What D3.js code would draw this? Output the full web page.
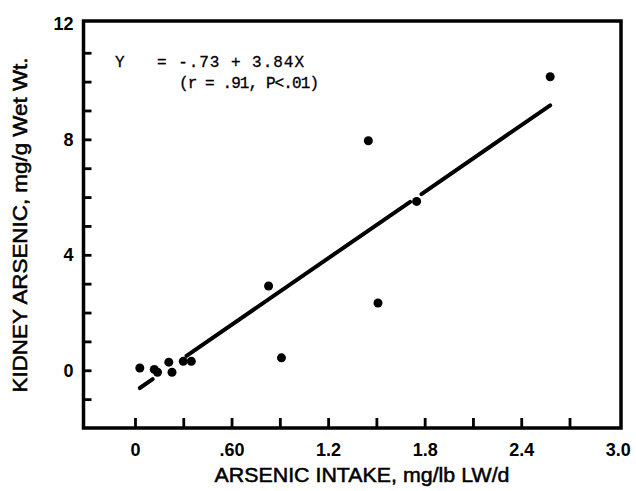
<!DOCTYPE html>
<html>
<head>
<meta charset="utf-8">
<script src="https://cdn.jsdelivr.net/npm/d3@7"></script>
<style>
  body { margin: 0; background: #fff; }
  svg { display: block; }
  .tick-label { font-family: "Liberation Sans", Arial, sans-serif; font-weight: bold; font-size: 18px; }
  .title { font-family: "Liberation Sans", Arial, sans-serif; font-size: 20px; stroke: #000; stroke-width: 0.5px; }
  .note { font-family: "Liberation Mono", "DejaVu Sans Mono", monospace; font-size: 16px; stroke: #000; stroke-width: 0.3px; }
</style>
</head>
<body>
<svg id="chart" width="636" height="491"></svg>
<script>
// data
const intake = [0.03, 0.12, 0.14, 0.21, 0.23, 0.30, 0.35, 0.83, 0.91, 1.45, 1.51, 1.75, 2.58];
const kidney = [0.08, 0.03, -0.07, 0.28, -0.07, 0.31, 0.31, 2.92, 0.43, 7.95, 2.33, 5.85, 10.17];

// fitted line Y = -.73 + 3.84X, drawn in pieces (gaps where it runs under points)
const fitA = -0.73, fitB = 3.84;
const fitPieces = [[0.03, 0.11], [0.32, 1.71], [1.78, 2.58]];

const xTicks = [0, 0.3, 0.6, 0.9, 1.2, 1.5, 1.8, 2.1, 2.4, 2.7];
const xLabels = [0, 0.6, 1.2, 1.8, 2.4, 3.0];
const xLabelText = ['0', '.60', '1.2', '1.8', '2.4', '3.0'];
const yTicks = [-1, 0, 1, 2, 3, 4, 5, 6, 7, 8, 9, 10, 11];
const yLabels = [0, 4, 8, 12];

const svg = d3.select('#chart');

const xMin = -0.32, xMax = 3.02, yMin = -2, yMax = 12.1;
const x = d3.scaleLinear().domain([xMin, xMax]).range([83.5, 621]);
const y = d3.scaleLinear().domain([yMin, yMax]).range([428, 21]);

//frame
svg.append('rect')
    .attr('x', x(xMin))
    .attr('y', y(yMax))
    .attr('width', x(xMax) - x(xMin))
    .attr('height', y(yMin) - y(yMax))
    .attr('fill', 'none')
    .attr('stroke', '#000')
    .attr('stroke-width', 3.5);

//inward ticks
const xTickAxis = d3.axisBottom(x).tickValues(xTicks).tickSize(-10).tickFormat('');
svg.append('g')
    .attr('transform', `translate(0,${y(yMin)})`)
    .call(xTickAxis)
    .call(g => g.select('.domain').remove())
    .selectAll('line').attr('stroke-width', 2.8);

const yTickAxis = d3.axisLeft(y).tickValues(yTicks).tickSize(-8).tickFormat('');
svg.append('g')
    .attr('transform', `translate(${x(xMin)},0)`)
    .call(yTickAxis)
    .call(g => g.select('.domain').remove())
    .selectAll('line').attr('stroke-width', 2.8);

//labels
const xLabelAxis = d3.axisBottom(x).tickValues(xLabels).tickSize(0).tickPadding(15)
    .tickFormat((d, i) => xLabelText[i]);
svg.append('g')
    .attr('transform', `translate(0,${y(yMin)})`)
    .call(xLabelAxis)
    .call(g => g.select('.domain').remove())
    .selectAll('text')
    .attr('class', 'tick-label')
    .attr('fill', '#000');

const yLabelAxis = d3.axisLeft(y).tickValues(yLabels).tickSize(0).tickPadding(10)
    .tickFormat(d3.format('d'));
svg.append('g')
    .attr('transform', `translate(${x(xMin)},0)`)
    .call(yLabelAxis)
    .call(g => g.select('.domain').remove())
    .selectAll('text')
    .attr('class', 'tick-label')
    .attr('fill', '#000');

//axis titles
svg.append('text')
    .attr('class', 'title')
    .attr('x', 362)
    .attr('y', 482)
    .attr('text-anchor', 'middle')
    .attr('textLength', 295)
    .attr('lengthAdjust', 'spacingAndGlyphs')
    .text('ARSENIC INTAKE, mg/lb LW/d');

svg.append('text')
    .attr('class', 'title')
    .attr('transform', 'translate(27,225) rotate(-90)')
    .attr('text-anchor', 'middle')
    .attr('textLength', 335)
    .attr('lengthAdjust', 'spacingAndGlyphs')
    .text('KIDNEY ARSENIC, mg/g Wet Wt.');

//regression line
const line = d3.line().x(d => x(d)).y(d => y(fitA + fitB * d));
svg.append('g')
    .selectAll('path')
    .data(fitPieces)
    .join('path')
    .attr('d', d => line(d))
    .attr('fill', 'none')
    .attr('stroke', '#000')
    .attr('stroke-width', 4)
    .attr('stroke-linecap', 'round');

//points
svg.append('g')
    .selectAll('circle')
    .data(intake)
    .join('circle')
    .attr('cx', d => x(d))
    .attr('cy', (d, i) => y(kidney[i]))
    .attr('r', 4.5)
    .attr('fill', '#000');

//equation note
svg.append('text')
    .attr('class', 'note')
    .attr('x', 115)
    .attr('y', 67)
    .text('Y');
svg.append('text')
    .attr('class', 'note')
    .attr('x', 157)
    .attr('y', 67)
    .attr('textLength', 147)
    .attr('lengthAdjust', 'spacing')
    .text('= -.73 + 3.84X');
svg.append('text')
    .attr('class', 'note')
    .attr('x', 179)
    .attr('y', 88)
    .attr('textLength', 140)
    .attr('lengthAdjust', 'spacing')
    .text('(r = .91, P<.01)');
</script>
</body>
</html>
